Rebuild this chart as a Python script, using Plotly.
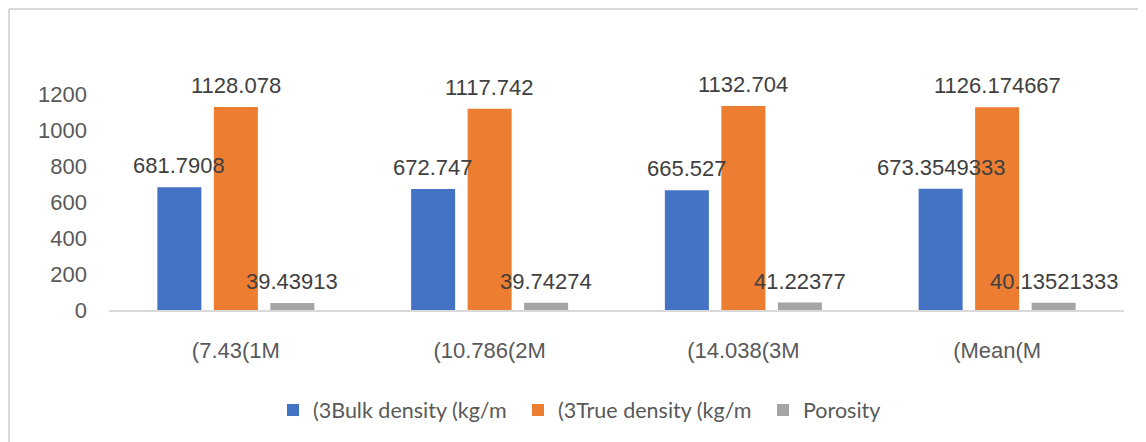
import plotly.graph_objects as go

categories = ["(7.43(1M", "(10.786(2M", "(14.038(3M", "(Mean(M"]
bulk_density = [681.7908, 672.747, 665.527, 673.3549333]
true_density = [1128.078, 1117.742, 1132.704, 1126.174667]
porosity = [39.43913, 39.74274, 41.22377, 40.13521333]
bulk_labels = ["681.7908", "672.747", "665.527", "673.3549333"]
true_labels = ["1128.078", "1117.742", "1132.704", "1126.174667"]
poro_labels = ["39.43913", "39.74274", "41.22377", "40.13521333"]
series_names = ["(3Bulk density (kg/m", "(3True density (kg/m", "Porosity"]
colors = ["#4472C4", "#ED7D31", "#A5A5A5"]
y_ticks = [0, 200, 400, 600, 800, 1000, 1200]

W, H = 1146, 442
ml, mr, mt, mb = 101, 30, 86, 140
pw, ph = W - ml - mr, H - mt - mb
BARGAP, GROUPGAP = 0.332, 0.221
spacing = (pw / len(categories)) * (1 - BARGAP) / 3

fig = go.Figure()
annotations = []
series = [bulk_density, true_density, porosity]
labels = [bulk_labels, true_labels, poro_labels]
for i, (name, vals, labs, col) in enumerate(zip(series_names, series, labels, colors)):
    fig.add_trace(go.Bar(
        x=categories, y=vals, name=name, marker=dict(color=col, line=dict(width=0)),
    ))
    for c, v, t in zip(categories, vals, labs):
        annotations.append(dict(
            x=c, y=v, text=t, showarrow=False, xref="x", yref="y",
            xanchor="center", yanchor="bottom", xshift=(i - 1) * spacing, yshift=7,
            font=dict(family="Liberation Sans, Arial", size=22, color="#404040"),
        ))

def px_x(p):
    return (p - ml) / pw

def px_y(p):
    return (H - mb - p) / ph

fig.update_layout(
    width=W, height=H,
    margin=dict(l=ml, r=mr, t=mt, b=mb),
    paper_bgcolor="white", plot_bgcolor="white",
    barmode="group", bargap=BARGAP, bargroupgap=GROUPGAP,
    showlegend=True,
    legend=dict(orientation="h", x=px_x(265), xanchor="left", y=px_y(402), yanchor="middle",
                font=dict(family="Lato, Arial", size=21.5, color="#595959"),
                itemwidth=30, traceorder="normal", entrywidth=200, entrywidthmode="pixels"),
    xaxis=dict(showgrid=False, showline=True, linecolor="#D9D9D9", linewidth=2,
               ticks="", tickfont=dict(family="Liberation Sans, Arial", size=22, color="#595959"),
               ticklabelstandoff=20),
    yaxis=dict(range=[0, 1200], tickvals=y_ticks, showgrid=False, zeroline=False,
               showline=False, ticks="",
               tickfont=dict(family="Liberation Sans, Arial", size=22, color="#595959"),
               ticklabelstandoff=21),
    annotations=annotations,
    shapes=[
        dict(type="line", xref="paper", yref="paper", x0=px_x(1), x1=px_x(1),
             y0=px_y(1), y1=px_y(445), line=dict(color="#D9D9D9", width=2)),
        dict(type="line", xref="paper", yref="paper", x0=px_x(1), x1=px_x(1150),
             y0=px_y(1), y1=px_y(1), line=dict(color="#D9D9D9", width=2)),
    ],
)

fig.write_html("out.html")
